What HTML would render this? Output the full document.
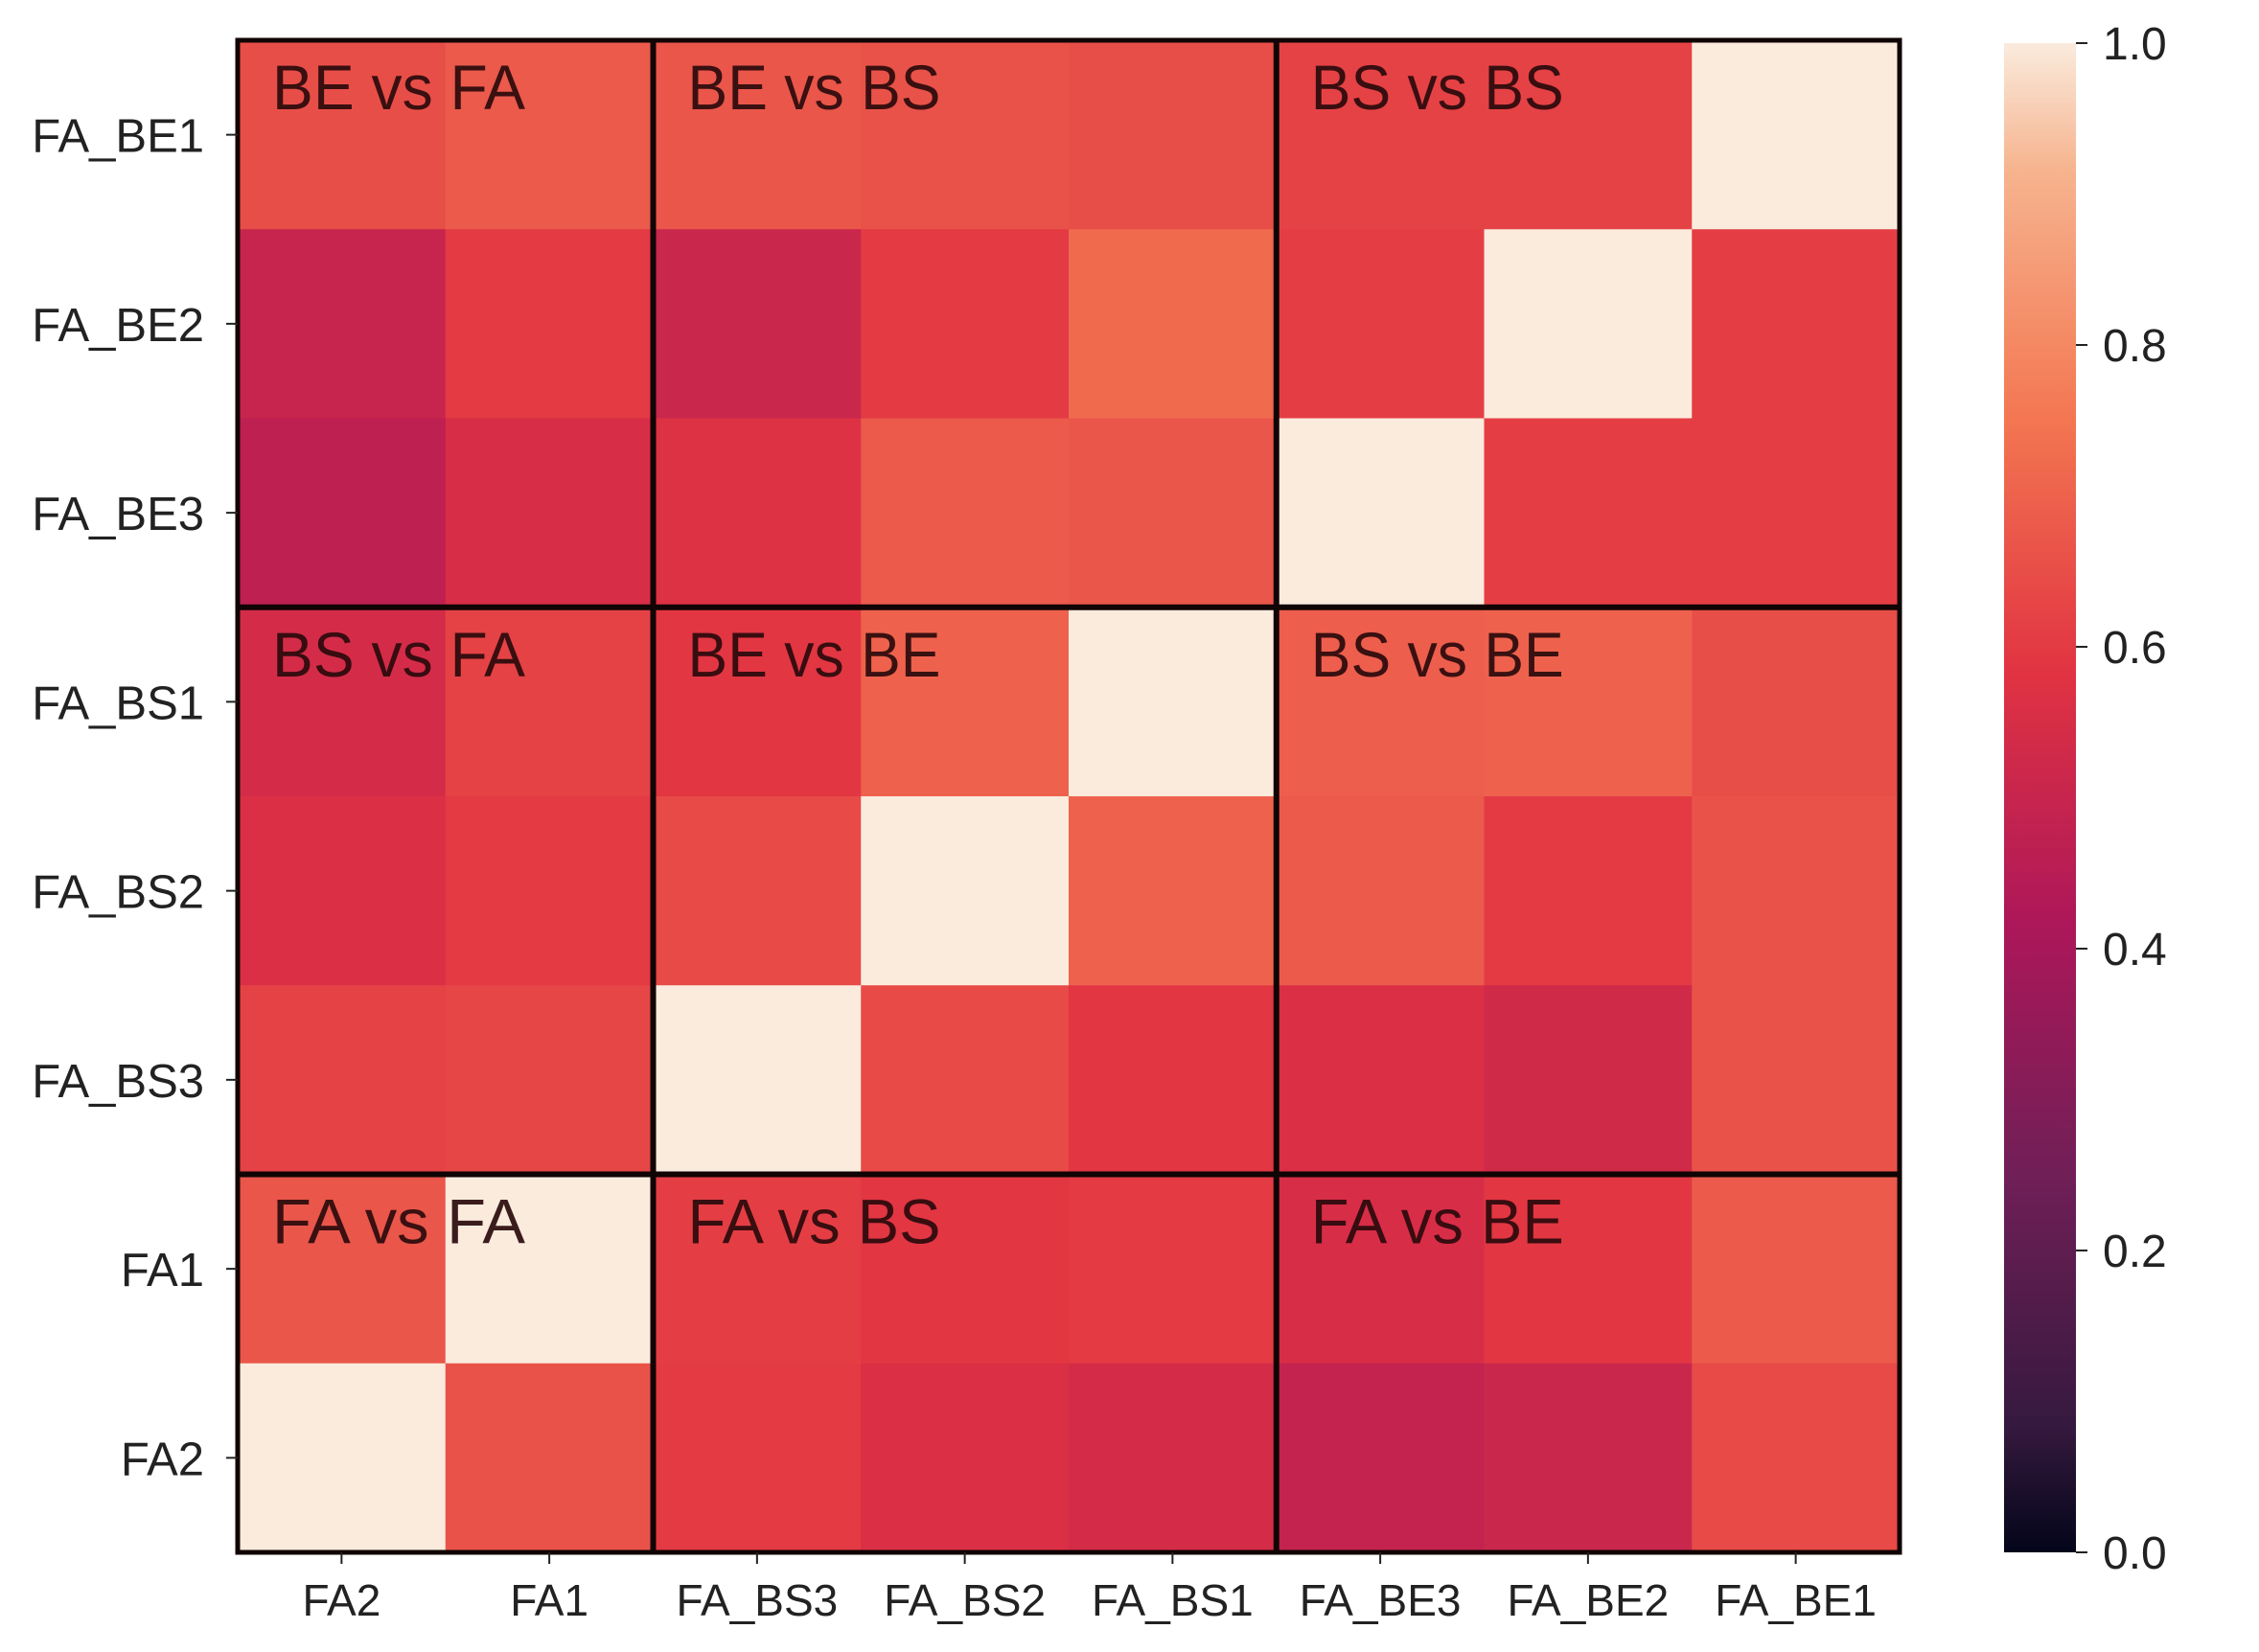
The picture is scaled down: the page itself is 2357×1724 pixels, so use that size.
<!DOCTYPE html>
<html><head><meta charset="utf-8"><style>
html,body{margin:0;padding:0;background:#fff;}
svg{display:block;font-family:"Liberation Sans",sans-serif;}
</style></head><body>
<svg id="chart" width="2357" height="1724" viewBox="0 0 2357 1724" xmlns="http://www.w3.org/2000/svg">
<defs>
<linearGradient id="cbgrad" x1="0" y1="1" x2="0" y2="0">
<stop offset="0" stop-color="#03051A"/><stop offset="0.083" stop-color="#35193E"/><stop offset="0.25" stop-color="#701F57"/><stop offset="0.417" stop-color="#AD1759"/><stop offset="0.583" stop-color="#E13342"/><stop offset="0.75" stop-color="#F37651"/><stop offset="0.917" stop-color="#F6B48F"/><stop offset="1" stop-color="#FAEBDD"/>
</linearGradient>
</defs>
<g id="cells"></g>
<g id="grid"></g>
<g id="blocks"></g>
<g id="axes"></g>
<g id="cbar"></g>
</svg>
<script>
const rowLabels = ["FA_BE1","FA_BE2","FA_BE3","FA_BS1","FA_BS2","FA_BS3","FA1","FA2"];
const colLabels = ["FA2","FA1","FA_BS3","FA_BS2","FA_BS1","FA_BE3","FA_BE2","FA_BE1"];
const row0 = [0.65,0.68,0.67,0.66,0.65,0.62,0.62,1.00];
const row1 = [0.50,0.60,0.51,0.60,0.72,0.61,1.00,0.61];
const row2 = [0.47,0.55,0.57,0.68,0.67,1.00,0.61,0.61];
const row3 = [0.54,0.62,0.59,0.70,1.00,0.69,0.70,0.65];
const row4 = [0.56,0.60,0.64,1.00,0.70,0.68,0.60,0.66];
const row5 = [0.62,0.63,1.00,0.64,0.59,0.56,0.53,0.66];
const row6 = [0.67,1.00,0.61,0.59,0.60,0.55,0.59,0.68];
const row7 = [1.00,0.66,0.60,0.56,0.54,0.49,0.51,0.64];
const values = [row0,row1,row2,row3,row4,row5,row6,row7];
const cbTicks = [0.0,0.2,0.4,0.6,0.8,1.0];
const blockNames = ["BE vs FA","BE vs BS","BS vs BS","BS vs FA","BE vs BE","BS vs BE","FA vs FA","FA vs BS","FA vs BE"];
const colBreaks = [2,5];
const rowBreaks = [3,6];

const NS="http://www.w3.org/2000/svg";
const L=248,R=1982,T=42,B=1620;
const cw=(R-L)/colLabels.length, ch=(B-T)/rowLabels.length;
const xc=i=>L+i*cw, yr=j=>T+j*ch;
const CBX=2091,CBW=75,CBT=45,CBB=1620;
const cbY=v=>CBB-(v-0)/(1-0)*(CBB-CBT);
const stops=[[0,"#03051A"],[0.083,"#35193E"],[0.25,"#701F57"],[0.417,"#AD1759"],[0.583,"#E13342"],[0.75,"#F37651"],[0.917,"#F6B48F"],[1,"#FAEBDD"]];
function hex(h){return [1,3,5].map(k=>parseInt(h.substr(k,2),16));}
function cmap(v){v=Math.max(0,Math.min(1,v));for(let k=1;k<stops.length;k++){if(v<=stops[k][0]){const a=stops[k-1],b=stops[k];const t=(v-a[0])/(b[0]-a[0]);const ca=hex(a[1]),cb=hex(b[1]);return "rgb("+ca.map((c,i)=>Math.round(c+(cb[i]-c)*t)).join(",")+")";}}return stops[stops.length-1][1];}
function mk(tag,attrs,parent){const e=document.createElementNS(NS,tag);for(const k in attrs)e.setAttribute(k,attrs[k]);parent.appendChild(e);return e;}

const cells=document.getElementById('cells');
values.forEach((row,j)=>row.forEach((v,i)=>{
  const r=mk('rect',{x:xc(i),y:yr(j),width:cw+0.6,height:ch+0.6,fill:cmap(v)},cells);
  
  
}));

const grid=document.getElementById('grid');
colBreaks.forEach(c=>{const l=mk('line',{x1:xc(c),x2:xc(c),y1:T,y2:B,stroke:'#100404','stroke-width':6},grid);

});
rowBreaks.forEach(r=>{const l=mk('line',{x1:L,x2:R,y1:yr(r),y2:yr(r),stroke:'#100404','stroke-width':6},grid);

});
const fr=mk('rect',{x:L,y:T,width:R-L,height:B-T,fill:'none',stroke:'#100404','stroke-width':5},grid);



const blocks=document.getElementById('blocks');
const bc=[0,2,5], br=[0,3,6];
blockNames.forEach((n,k)=>{
  const i=bc[k%3], j=br[Math.floor(k/3)];
  const t=mk('text',{x:xc(i)+36,y:yr(j)+72,'font-size':66,fill:'#2a0a0c','fill-opacity':0.92,textLength:n.length*33,lengthAdjust:'spacingAndGlyphs'},blocks);
  t.textContent=n;
  
  
});

const axes=document.getElementById('axes');
rowLabels.forEach((lab,j)=>{
  const y=yr(j)+ch/2;
  const tk=mk('line',{x1:L-12,x2:L,y1:y,y2:y,stroke:'#222','stroke-width':2},axes);
  
  
  const t=mk('text',{x:L-35,y:y+18,'font-size':49,'text-anchor':'end',fill:'#222'},axes);
  t.textContent=lab;
  
  
});
colLabels.forEach((lab,i)=>{
  const x=xc(i)+cw/2;
  const tk=mk('line',{x1:x,x2:x,y1:B,y2:B+12,stroke:'#222','stroke-width':2},axes);
  
  
  const t=mk('text',{x:x,y:B+66,'font-size':46,'text-anchor':'middle',fill:'#222'},axes);
  t.textContent=lab;
  
  
});

const cbar=document.getElementById('cbar');
const cr=mk('rect',{x:CBX,y:CBT,width:CBW,height:CBB-CBT,fill:'url(#cbgrad)'},cbar);


cbTicks.forEach(v=>{
  const y=cbY(v);
  const tk=mk('line',{x1:CBX+CBW,x2:CBX+CBW+12,y1:y,y2:y,stroke:'#222','stroke-width':2},cbar);
  
  
  const t=mk('text',{x:CBX+CBW+28,y:y+17,'font-size':48,fill:'#222'},cbar);
  t.textContent=v.toFixed(1);
  
  
});
</script>
</body></html>
